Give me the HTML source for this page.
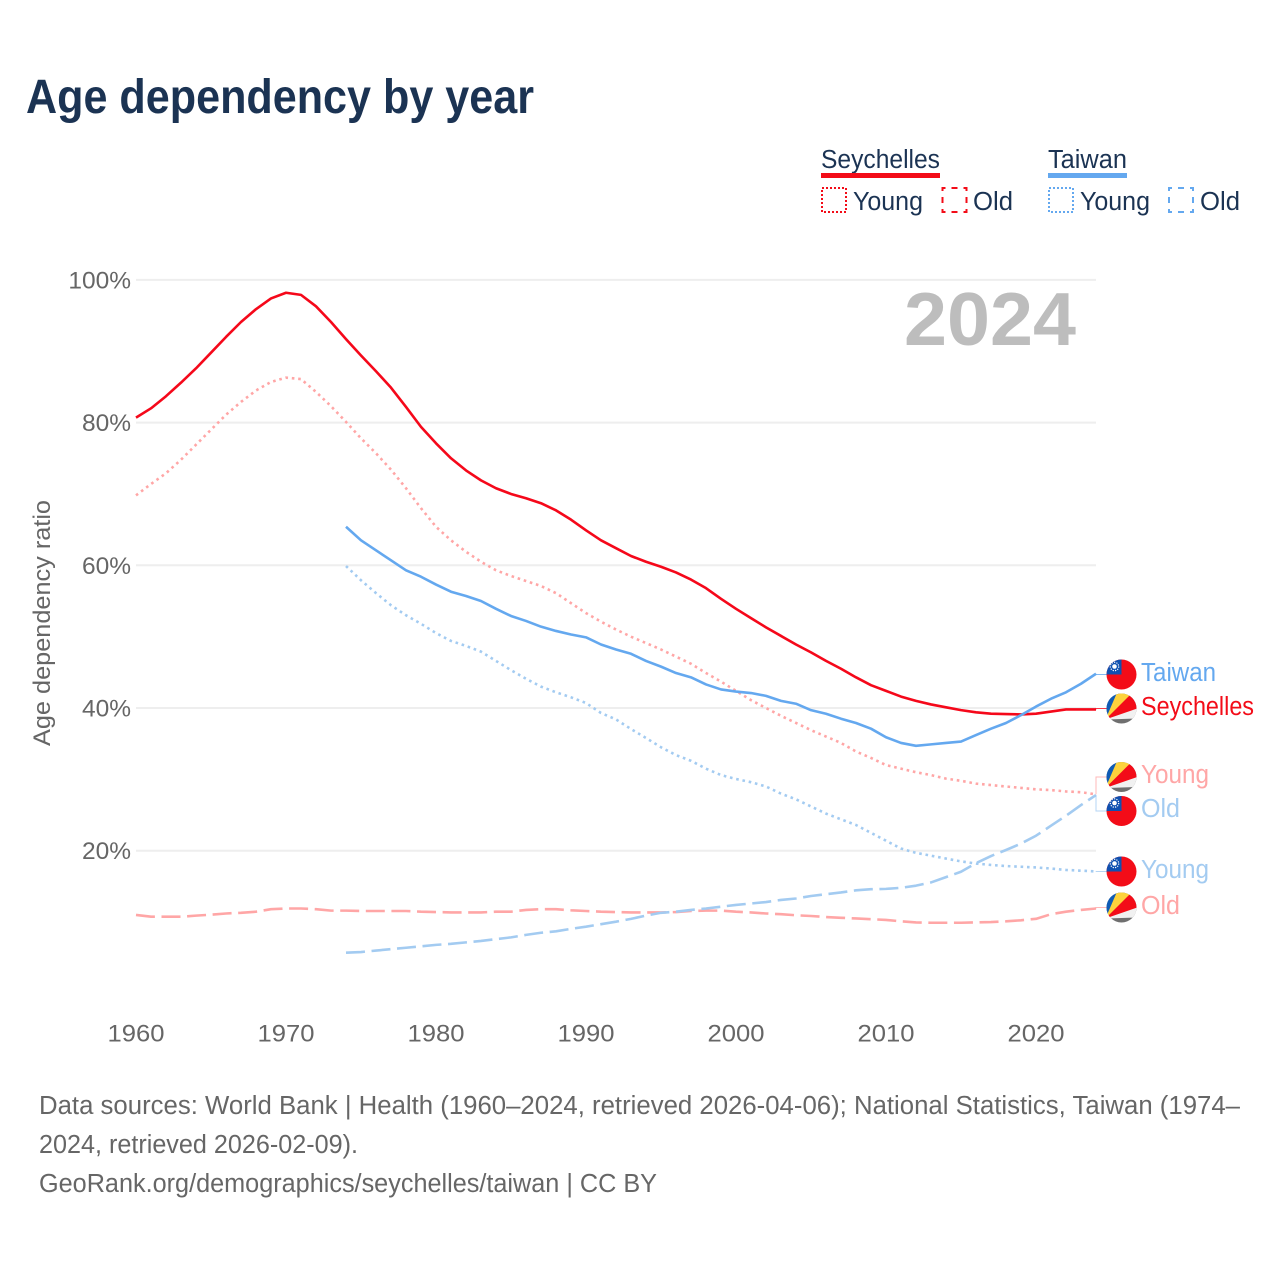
<!DOCTYPE html>
<html lang="en">
<head>
<meta charset="utf-8">
<title>Age dependency by year</title>
<style>
html,body{margin:0;padding:0;background:#fff;}
svg{display:block;font-family:"Liberation Sans",sans-serif;}
.lg{font-size:25.5px;fill:#1b3353;}
.foot{font-size:25.5px;fill:#666;}
.tick{font-size:24.5px;fill:#666;}
.end{font-size:25.5px;}
</style>
</head>
<body>
<svg id="chart" xmlns="http://www.w3.org/2000/svg" width="1280" height="1280" viewBox="0 0 1280 1280">
  <defs>
    <clipPath id="flag-clip"><circle cx="0" cy="0" r="15"/></clipPath>
    <g id="flag-sc" clip-path="url(#flag-clip)">
      <rect x="-16" y="-16" width="32" height="32" fill="#6f6f6f"/>
      <polygon points="-16,11 -16,-16 -2,-17" fill="#0f5bb5"/>
      <polygon points="-16,11 -4,-17 13,-17" fill="#fdd23c"/>
      <polygon points="-16,11 11,-16 17,-16 17,0.5" fill="#f30c18"/>
      <polygon points="-16,11 17,-0.5 17,10" fill="#f1f1f1"/>
    </g>
    <g id="flag-tw" clip-path="url(#flag-clip)">
      <rect x="-16" y="-16" width="32" height="32" fill="#f30c18"/>
      <rect x="-16" y="-16" width="16" height="16" fill="#0f50b0"/>
      <circle cx="-7" cy="-8" r="2.3" fill="#fff"/>
      <circle cx="-7" cy="-8" r="4.2" fill="none" stroke="#fff" stroke-width="1.2" stroke-dasharray="1.2 1.2"/>
    </g>
  </defs>

  <text x="26" y="113" font-size="48" font-weight="700" fill="#1b3353" textLength="508" lengthAdjust="spacingAndGlyphs">Age dependency by year</text>

  <g>
    <g>
      <text class="lg" x="821" y="168" textLength="119" lengthAdjust="spacingAndGlyphs">Seychelles</text>
      <rect x="821" y="173" width="119" height="5" fill="#f30c18"/>
      <rect x="822" y="188" width="24" height="24" fill="none" stroke="#f30c18" stroke-width="2" stroke-dasharray="2 2"/>
      <text class="lg" x="853" y="210" textLength="70" lengthAdjust="spacingAndGlyphs">Young</text>
      <rect x="942.5" y="188" width="24" height="24" fill="none" stroke="#f30c18" stroke-width="2" stroke-dasharray="6 6" stroke-dashoffset="3"/>
      <text class="lg" x="973" y="210" textLength="40" lengthAdjust="spacingAndGlyphs">Old</text>
    </g>
    <g>
      <text class="lg" x="1048" y="168" textLength="79" lengthAdjust="spacingAndGlyphs">Taiwan</text>
      <rect x="1048" y="173" width="79" height="5" fill="#64a8ef"/>
      <rect x="1049" y="188" width="24" height="24" fill="none" stroke="#64a8ef" stroke-width="2" stroke-dasharray="2 2"/>
      <text class="lg" x="1080" y="210" textLength="70" lengthAdjust="spacingAndGlyphs">Young</text>
      <rect x="1169" y="188" width="24" height="24" fill="none" stroke="#64a8ef" stroke-width="2" stroke-dasharray="6 6" stroke-dashoffset="3"/>
      <text class="lg" x="1200" y="210" textLength="40" lengthAdjust="spacingAndGlyphs">Old</text>
    </g>
  </g>

  <g id="grid"></g>
  <g id="yticks"></g>
  <g id="xticks"></g>
  <text class="tick" transform="translate(50,623) rotate(-90)" text-anchor="middle" font-size="24.5" textLength="246" lengthAdjust="spacingAndGlyphs">Age dependency ratio</text>

  <text x="904" y="345" font-size="75" font-weight="700" fill="#bdbdbd" textLength="172" lengthAdjust="spacingAndGlyphs">2024</text>

  <g id="connectors"></g>
  <g id="series"></g>

  <g>
    <use href="#flag-tw" x="1121.5" y="674.5"/>
    <text class="end" x="1141" y="681" fill="#64a8ef" textLength="75" lengthAdjust="spacingAndGlyphs">Taiwan</text>
    <use href="#flag-sc" x="1121.5" y="708.5"/>
    <text class="end" x="1141" y="715" fill="#f30c18" textLength="113" lengthAdjust="spacingAndGlyphs">Seychelles</text>
    <use href="#flag-sc" x="1121.5" y="777"/>
    <text class="end" x="1141" y="783" fill="#ffa6a6" textLength="68" lengthAdjust="spacingAndGlyphs">Young</text>
    <use href="#flag-tw" x="1121.5" y="811"/>
    <text class="end" x="1141" y="817" fill="#a3cbf1" textLength="39" lengthAdjust="spacingAndGlyphs">Old</text>
    <use href="#flag-tw" x="1121.5" y="871.5"/>
    <text class="end" x="1141" y="878" fill="#a3cbf1" textLength="68" lengthAdjust="spacingAndGlyphs">Young</text>
    <use href="#flag-sc" x="1121.5" y="907.5"/>
    <text class="end" x="1141" y="914" fill="#ffa6a6" textLength="39" lengthAdjust="spacingAndGlyphs">Old</text>
  </g>

  <g>
    <text class="foot" x="39" y="1114" textLength="1201" lengthAdjust="spacingAndGlyphs">Data sources: World Bank | Health (1960–2024, retrieved 2026-04-06); National Statistics, Taiwan (1974–</text>
    <text class="foot" x="39" y="1153" textLength="319" lengthAdjust="spacingAndGlyphs">2024, retrieved 2026-02-09).</text>
    <text class="foot" x="39" y="1192" textLength="618" lengthAdjust="spacingAndGlyphs">GeoRank.org/demographics/seychelles/taiwan | CC BY</text>
  </g>
</svg>

<script>
const seychellesStartYear = 1960;
const taiwanStartYear = 1974;
const xTickLabels = [1960, 1970, 1980, 1990, 2000, 2010, 2020];
const yTickLabels = [20, 40, 60, 80, 100];

const seychellesTotal = [80.7,82.0,83.7,85.6,87.6,89.8,92.0,94.1,95.9,97.4,98.2,97.9,96.3,94.1,91.7,89.4,87.2,84.9,82.2,79.4,77.1,75.0,73.3,71.9,70.8,70.0,69.4,68.7,67.7,66.4,64.9,63.5,62.4,61.3,60.5,59.8,59.0,58.0,56.8,55.3,53.9,52.6,51.3,50.1,48.9,47.8,46.6,45.5,44.3,43.2,42.4,41.6,41.0,40.5,40.1,39.7,39.4,39.2,39.15,39.1,39.2,39.5,39.8,39.8,39.8];
const seychellesYoung = [69.8,71.4,72.9,74.8,76.9,79.0,81.1,82.9,84.5,85.7,86.3,86.1,84.3,82.3,80.1,77.8,75.7,73.4,70.8,68.0,65.4,63.5,61.9,60.5,59.3,58.5,57.8,57.1,56.1,54.7,53.3,52.1,51.0,50.0,49.1,48.2,47.2,46.2,44.9,43.7,42.4,41.1,40.0,38.9,37.9,36.9,36.0,35.1,33.9,33.0,32.0,31.5,31.0,30.6,30.1,29.8,29.4,29.2,29.0,28.8,28.6,28.5,28.3,28.2,27.9];
const seychellesOld = [11.0,10.75,10.75,10.75,10.9,11.03,11.2,11.3,11.45,11.8,11.9,11.9,11.8,11.6,11.6,11.55,11.55,11.55,11.55,11.45,11.4,11.35,11.35,11.35,11.45,11.45,11.7,11.8,11.8,11.65,11.55,11.45,11.4,11.35,11.35,11.35,11.4,11.55,11.6,11.6,11.45,11.35,11.2,11.1,10.95,10.85,10.7,10.6,10.5,10.4,10.3,10.1,9.95,9.9,9.9,9.9,9.95,10.0,10.1,10.25,10.45,11.1,11.45,11.7,11.9];
const taiwanTotal = [65.4,63.5,62.1,60.7,59.3,58.4,57.3,56.3,55.7,55.0,53.9,52.9,52.2,51.4,50.8,50.3,49.9,48.9,48.2,47.6,46.6,45.8,44.9,44.3,43.3,42.6,42.3,42.1,41.7,41.0,40.6,39.7,39.2,38.5,37.9,37.1,35.9,35.1,34.7,34.9,35.1,35.3,36.2,37.1,37.9,39.0,40.2,41.3,42.2,43.4,44.8];
const taiwanYoung = [59.9,57.9,56.1,54.4,53.0,51.8,50.5,49.4,48.7,47.9,46.6,45.3,44.1,43.0,42.2,41.5,40.7,39.3,38.4,37.05,35.8,34.5,33.4,32.6,31.5,30.6,30.05,29.6,29.0,28.0,27.2,26.2,25.2,24.4,23.6,22.5,21.4,20.3,19.7,19.3,18.9,18.5,18.2,18.0,17.85,17.75,17.65,17.5,17.3,17.2,17.1];
const taiwanOld = [5.7,5.8,6.0,6.2,6.4,6.6,6.8,6.95,7.15,7.35,7.6,7.85,8.2,8.5,8.7,9.05,9.35,9.7,10.05,10.45,10.9,11.3,11.45,11.7,11.9,12.15,12.4,12.6,12.8,13.1,13.3,13.65,13.9,14.15,14.45,14.6,14.65,14.8,15.1,15.55,16.3,17.05,18.25,19.25,20.1,21.0,22.1,23.5,24.9,26.4,27.8];

const NS = 'http://www.w3.org/2000/svg';
function xScale(year) { return 136 + (year - 1960) * (960 / 64); }
function yScale(value) { return 993.4 - value * 7.135; }

function linePath(values, startYear) {
  return values.map(function (v, i) {
    return (i ? 'L' : 'M') + xScale(startYear + i).toFixed(2) + ' ' + yScale(v).toFixed(2);
  }).join(' ');
}

const gridGroup = document.getElementById('grid');
const yTickGroup = document.getElementById('yticks');
yTickLabels.forEach(function (t) {
  const line = document.createElementNS(NS, 'line');
  
  
  line.setAttribute('x1', xScale(1960));
  line.setAttribute('x2', xScale(2024));
  line.setAttribute('y1', yScale(t));
  line.setAttribute('y2', yScale(t));
  line.setAttribute('stroke', '#eeeeee');
  line.setAttribute('stroke-width', '2');
  gridGroup.appendChild(line);

  const label = document.createElementNS(NS, 'text');
  
  
  label.setAttribute('class', 'tick');
  label.setAttribute('text-anchor', 'end');
  label.setAttribute('x', '131');
  label.setAttribute('y', yScale(t) + 8.5);
  label.textContent = t + '%';
  yTickGroup.appendChild(label);
});

const xTickGroup = document.getElementById('xticks');
xTickLabels.forEach(function (t) {
  const label = document.createElementNS(NS, 'text');
  
  
  label.setAttribute('class', 'tick');
  label.setAttribute('text-anchor', 'middle');
  label.setAttribute('x', xScale(t));
  label.setAttribute('y', '1041.5');
  label.setAttribute('textLength', '57');
  label.setAttribute('lengthAdjust', 'spacingAndGlyphs');
  label.textContent = t;
  xTickGroup.appendChild(label);
});

const seriesGroup = document.getElementById('series');
const connectorGroup = document.getElementById('connectors');

function drawSeries(name, values, startYear, color, dash, labelY) {
  const path = document.createElementNS(NS, 'path');
  
  
  path.setAttribute('d', linePath(values, startYear));
  path.setAttribute('fill', 'none');
  path.setAttribute('stroke', color);
  path.setAttribute('stroke-width', '2.6');
  path.setAttribute('stroke-linejoin', 'round');
  if (dash !== 'none') {
    path.setAttribute('stroke-dasharray', dash);
  }
  seriesGroup.appendChild(path);

  const last = values[values.length - 1];
  const connector = document.createElementNS(NS, 'path');
  
  
  connector.setAttribute('d', 'M' + xScale(2024) + ' ' + yScale(last).toFixed(2) + ' V' + labelY + ' H1107');
  connector.setAttribute('fill', 'none');
  connector.setAttribute('stroke', color);
  connector.setAttribute('stroke-width', '1');
  connector.setAttribute('stroke-opacity', '0.8');
  connectorGroup.appendChild(connector);
}

drawSeries('seychelles-old-line', seychellesOld, seychellesStartYear, '#ffa6a6', '19 6.6', 907.5);
drawSeries('taiwan-old-line', taiwanOld, taiwanStartYear, '#a3cbf1', '19 6.6', 811);
drawSeries('seychelles-young-line', seychellesYoung, seychellesStartYear, '#ffa6a6', '2.6 3.8', 777);
drawSeries('taiwan-young-line', taiwanYoung, taiwanStartYear, '#a3cbf1', '2.6 3.8', 871.5);
drawSeries('seychelles-total-line', seychellesTotal, seychellesStartYear, '#f5081a', 'none', 708.5);
drawSeries('taiwan-total-line', taiwanTotal, taiwanStartYear, '#64a8ef', 'none', 674.5);
</script>
</body>
</html>
